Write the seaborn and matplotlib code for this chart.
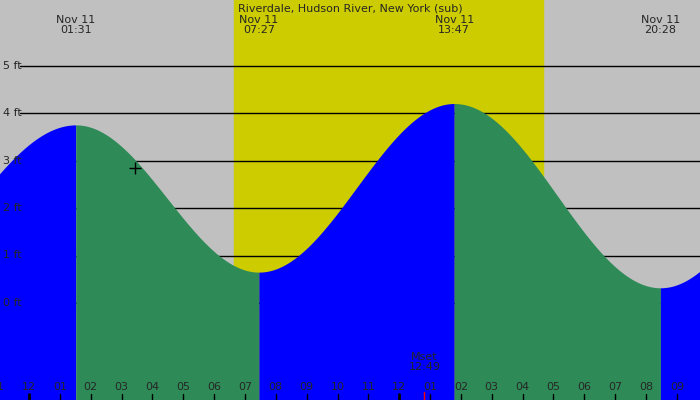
import numpy as np
import pandas as pd
import seaborn as sns
import matplotlib.pyplot as plt

# tide extremes, hours from midnight Nov 11, height in ft
ext_hours = [-5.2, 1 + 31/60, 7 + 27/60, 13 + 47/60, 20 + 28/60, 26.8]
ext_height = [0.3, 3.75, 0.65, 4.2, 0.32, 3.9]
ext_labels = ['', '01:31', '07:27', '13:47', '20:28', '']
hour_labels = ['11', '12', '01', '02', '03', '04', '05', '06', '07', '08', '09', '10',
               '11', '12', '01', '02', '03', '04', '05', '06', '07', '08', '09']
sunrise, sunset = 6 + 39/60, 16 + 40/60
moonset = 12 + 49/60

# half-cosine between each pair of extremes
t, h = [], []
for i in range(len(ext_hours) - 1):
    s = np.linspace(0, 1, 80)
    t.extend(ext_hours[i] + s * (ext_hours[i+1] - ext_hours[i]))
    h.extend(ext_height[i] + (ext_height[i+1] - ext_height[i]) * (1 - np.cos(np.pi * s)) / 2)
df = pd.DataFrame({'hour': t, 'ft': h})

sns.set_style('white')
fig = plt.figure(figsize=(7, 4), dpi=100)
ax = fig.add_axes([0, 0, 1, 1])
x0, x1 = -29 / 30.85, (700 - 29) / 30.85
ax.set_xlim(x0, x1)
ax.set_ylim(-(400 - 303) / 47.5, 303 / 47.5)
ax.set_facecolor('#c0c0c0')
ax.axvspan(sunrise, sunset, color='#cccc00', zorder=0)
for ft in range(6):
    ax.plot([20 / 30.85 + x0, x1], [ft, ft], color='black', lw=1, zorder=1)
    ax.text(x0 + 3 / 30.85, ft, f'{ft} ft', va='center', ha='left', fontsize=8, zorder=3)

ymin = ax.get_ylim()[0]
for i in range(len(ext_hours) - 1):
    m = (df.hour >= ext_hours[i]) & (df.hour <= ext_hours[i+1])
    col = 'blue' if ext_height[i+1] > ext_height[i] else '#2e8b57'
    ax.fill_between(df.hour[m], ymin, df.ft[m], color=col, lw=0, zorder=2)
sns.lineplot(data=df, x='hour', y='ft', ax=ax, lw=0, zorder=2)

ax.text((x0 + x1) / 2, 6.2, 'Riverdale, Hudson River, New York (sub)', ha='center', va='center', fontsize=8)
for hr, lab in zip(ext_hours, ext_labels):
    if lab:
        ax.text(hr, 5.85, 'Nov 11\n' + lab, ha='center', va='center', fontsize=8, linespacing=1.0)

for i, lab in enumerate(hour_labels):
    hr = i - 1
    ax.text(hr, ymin + 13 / 47.5, lab, ha='center', va='center', fontsize=8, zorder=3)
    ax.plot([hr, hr], [ymin, ymin + 6 / 47.5], color='black', lw=2 if lab == '12' else 1, zorder=3)
ax.plot([moonset, moonset], [ymin, ymin + 8 / 47.5], color='red', lw=1, zorder=3)
ax.text(moonset, ymin + 38 / 47.5, 'Mset\n12:49', ha='center', va='center', fontsize=8, linespacing=1.0, zorder=3)
ax.plot([3.44], [2.85], marker='+', color='black', ms=8, zorder=4)

ax.set_xticks([]); ax.set_yticks([])
ax.set_xlabel(''); ax.set_ylabel('')
for s in ax.spines.values():
    s.set_visible(False)
fig.savefig('out.png', dpi=100)
